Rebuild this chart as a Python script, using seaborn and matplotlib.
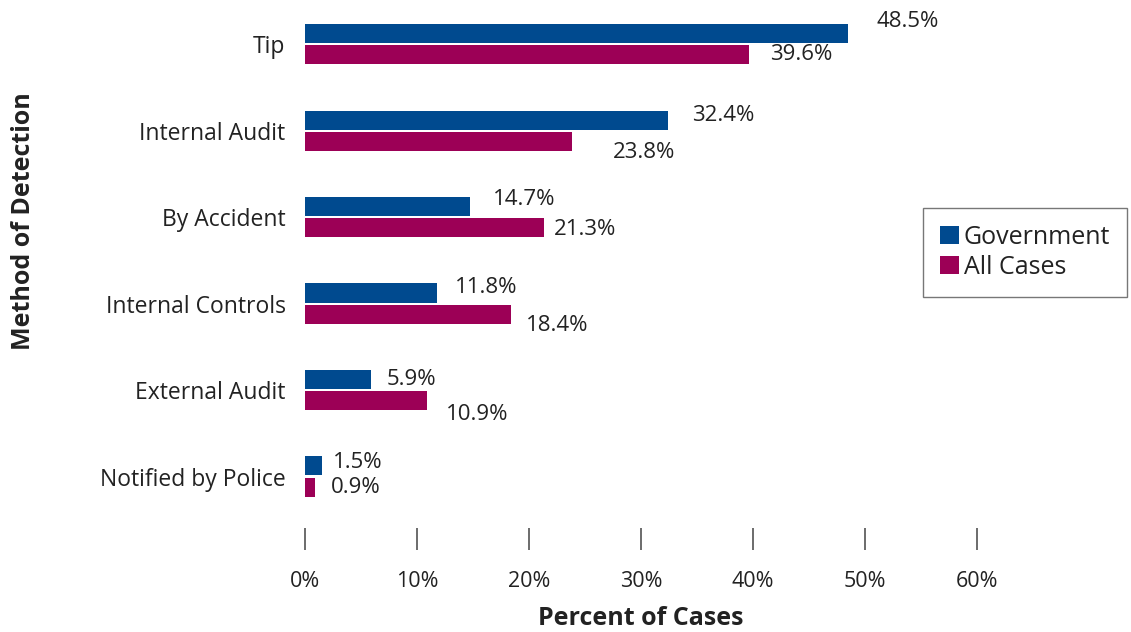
import seaborn as sns
import matplotlib.pyplot as plt
import pandas as pd

# data
methods = ['Tip', 'Internal Audit', 'By Accident', 'Internal Controls',
           'External Audit', 'Notified by Police']
government = [48.5, 32.4, 14.7, 11.8, 5.9, 1.5]
all_cases = [39.6, 23.8, 21.3, 18.4, 10.9, 0.9]
series = ['Government', 'All Cases']
x_ticks = [0, 10, 20, 30, 40, 50, 60]

# label offsets in pixels (dx from bar end, dy from bar centre)
gov_offsets = [(28, 12), (24, 5), (23, 7), (18, 6), (16, 0), (11, 3)]
all_offsets = [(22, 0), (41, -11), (10, -2), (15, -11), (19, -14), (16, 0)]

df = pd.DataFrame({
    'Method': methods * 2,
    'Percent': government + all_cases,
    'Series': [series[0]] * len(methods) + [series[1]] * len(methods),
})

sns.set_style('white')
plt.rcParams['font.family'] = ['Open Sans', 'DejaVu Sans']

fig = plt.figure(figsize=(11.31, 6.32), dpi=100)
ax = fig.add_axes([305 / 1131, 82 / 632, 672 / 1131, 549 / 632])

palette = {'Government': '#004a8f', 'All Cases': '#9c0056'}
sns.barplot(data=df, y='Method', x='Percent', hue='Series', order=methods,
            hue_order=series, palette=palette, orient='h', width=0.49,
            gap=0.1, ax=ax, saturation=1, legend=True,
            linewidth=0, edgecolor='none')

ax.set_xlim(0, 60)
ax.set_ylim(5.85, -0.5)
for s in ax.spines.values():
    s.set_visible(False)

ax.set_xticks(x_ticks)
ax.set_xticklabels([f'{t}%' for t in x_ticks])
ax.tick_params(axis='x', direction='in', length=16, width=1.1, color='#444444',
               pad=15, labelsize=15.5, labelcolor='#222222', bottom=True)
ax.tick_params(axis='y', length=0, pad=14, labelsize=16.5, labelcolor='#222222')

ax.set_xlabel('Percent of Cases', fontsize=18, fontweight='bold', labelpad=10.5,
              color='#222222')
ax.set_ylabel('Method of Detection', fontsize=18, fontweight='bold',
              color='#222222')
ax.yaxis.set_label_coords((24 - 305) / 672, 1 - (221 - 1) / 549)
ax.yaxis.label.set_verticalalignment('center')
ax.yaxis.label.set_horizontalalignment('center')

# value labels
containers = ax.containers
for cont, vals, offs in zip(containers, [government, all_cases], [gov_offsets, all_offsets]):
    for bar, v, (dx, dy) in zip(cont, vals, offs):
        yc = bar.get_y() + bar.get_height() / 2
        ax.annotate(f'{v}%', xy=(bar.get_width(), yc), xytext=(dx, dy),
                    textcoords='offset pixels', ha='left', va='center',
                    fontsize=16, color='#222222', annotation_clip=False)

leg = ax.legend(loc='upper left', bbox_to_anchor=(923 / 1131, 1 - 208 / 632),
                bbox_transform=fig.transFigure, frameon=True, fancybox=False,
                fontsize=18, handlelength=0.75, handleheight=0.75,
                handletextpad=0.2, borderpad=0.68, labelspacing=0.2,
                borderaxespad=0)
leg.get_frame().set_edgecolor('#555555')
leg.get_frame().set_linewidth(1.0)
for t in leg.get_texts():
    t.set_color('#222222')

plt.savefig('out.png', dpi=100)
